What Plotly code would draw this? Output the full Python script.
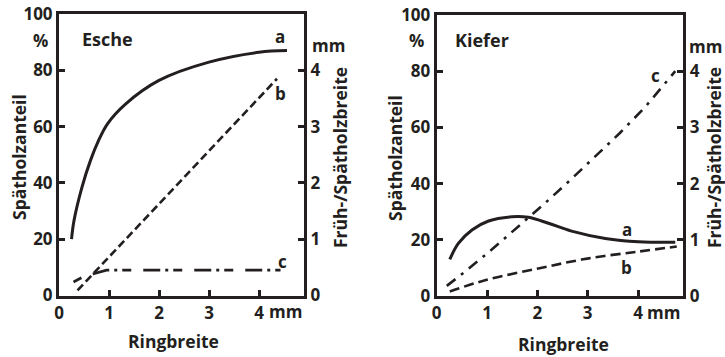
import plotly.graph_objects as go

# ---------------- data ----------------
# Esche (ash)
esche_a_x = [0.25, 0.30, 0.46, 0.63, 0.79, 0.97, 1.33, 2.0, 3.0, 4.0, 4.56]
esche_a_y = [20.0, 26.6, 38.5, 48.0, 55.0, 61.0, 68.0, 76.4, 82.9, 86.4, 87.0]   # %
esche_b_x = [0.37, 4.36]
esche_b_y = [0.09, 3.85]                                                          # mm
esche_c_x = [0.29, 0.50, 0.95, 4.43]
esche_c_y = [0.24, 0.34, 0.45, 0.45]                                              # mm

# Kiefer (pine)
kiefer_a_x = [0.26, 0.43, 0.70, 1.03, 1.49, 1.82, 2.22, 2.68, 3.35, 4.01, 4.74]
kiefer_a_y = [13.0, 18.7, 23.5, 26.7, 28.2, 28.0, 25.9, 23.1, 20.5, 19.3, 19.1]  # %
kiefer_b_x = [0.26, 0.96, 2.02, 3.02, 4.01, 4.77]
kiefer_b_y = [0.08, 0.28, 0.49, 0.67, 0.79, 0.88]                                 # mm
kiefer_c_x = [0.20, 0.56, 1.10, 1.64, 2.15, 2.65, 3.64, 4.14, 4.74]
kiefer_c_y = [0.18, 0.43, 0.83, 1.25, 1.65, 2.06, 2.90, 3.36, 4.00]               # mm

x_tickvals = [0, 1, 2, 3, 4]
x_ticktext = ["0", "1", "2", "3", "4"]
pct_ticks = [0, 20, 40, 60, 80, 100]
mm_ticks = [0, 1, 2, 3, 4]

# ---------------- style ----------------
INK = "#231f20"
FONT = "Open Sans"
W, H = 725, 357

fig = go.Figure()

def add_panel(xref, yl, yr, ax, ay, bx, by, cx, cy, b_dash, c_dash):
    fig.add_trace(go.Scatter(x=ax, y=ay, mode="lines", line=dict(color=INK, width=3, shape="spline"),
                             xaxis=xref, yaxis=yl, showlegend=False, hoverinfo="skip"))
    fig.add_trace(go.Scatter(x=bx, y=by, mode="lines", line=dict(color=INK, width=2.6, dash=b_dash, shape="spline"),
                             xaxis=xref, yaxis=yr, showlegend=False, hoverinfo="skip"))
    fig.add_trace(go.Scatter(x=cx, y=cy, mode="lines", line=dict(color=INK, width=2.6, dash=c_dash),
                             xaxis=xref, yaxis=yr, showlegend=False, hoverinfo="skip"))

add_panel("x", "y", "y2", esche_a_x, esche_a_y, esche_b_x, esche_b_y, esche_c_x, esche_c_y,
          "8px,4px", "9px,12px,17px,5px,3px,5px")
add_panel("x2", "y3", "y4", kiefer_a_x, kiefer_a_y, kiefer_b_x, kiefer_b_y, kiefer_c_x, kiefer_c_y,
          "10px,5px", "11px,7px,3px,7px")

tickfont = dict(family=FONT, size=17, color=INK, weight="bold")
common_x = dict(range=[0, 4.9], tickvals=x_tickvals, ticktext=x_ticktext, ticks="inside", ticklen=6,
                tickwidth=2.5, tickcolor=INK, showline=True, linecolor=INK, linewidth=3, mirror=True,
                showgrid=False, zeroline=False, tickfont=tickfont, fixedrange=True, automargin=False)
common_yl = dict(range=[0, 100], tickvals=pct_ticks, ticks="inside", ticklen=6, tickwidth=2.5,
                 tickcolor=INK, showline=True, linecolor=INK, linewidth=3, showgrid=False,
                 zeroline=False, tickfont=tickfont, side="left", automargin=False)
common_yr = dict(range=[0, 5], tickvals=mm_ticks, ticks="inside", ticklen=6, tickwidth=2.5,
                 tickcolor=INK, showline=True, linecolor=INK, linewidth=3, showgrid=False,
                 zeroline=False, tickfont=tickfont, side="right", automargin=False)

ydom1 = [1 - 295.5 / H, 1 - 14 / H]
ydom2 = [1 - 296 / H, 1 - 15 / H]
fig.update_layout(
    template="none",
    width=W, height=H, margin=dict(l=0, r=0, t=0, b=0, autoexpand=False),
    paper_bgcolor="white", plot_bgcolor="white",
    font=dict(family=FONT, color=INK, weight="bold"),
    xaxis=dict(domain=[59 / W, 304 / W], anchor="y", **common_x),
    yaxis=dict(domain=ydom1, anchor="x", **common_yl),
    yaxis2=dict(overlaying="y", anchor="x", **common_yr),
    xaxis2=dict(domain=[436.7 / W, 683.3 / W], anchor="y3", **common_x),
    yaxis3=dict(domain=ydom2, anchor="x2", **common_yl),
    yaxis4=dict(overlaying="y3", anchor="x2", **common_yr),
)

def ann(text, px, py, size=17, angle=0, xanchor="center"):
    fig.add_annotation(text=text, x=px / W, y=1 - py / H, xref="paper", yref="paper",
                       showarrow=False, textangle=angle, xanchor=xanchor, yanchor="middle",
                       font=dict(family=FONT, size=size, color=INK, weight="bold"))

# Esche panel texts
ann("Esche", 107, 38.5, size=18)
ann("%", 40, 40)
ann("mm", 328, 45)
ann("mm", 285, 311)
ann("a", 280, 37)
ann("b", 280, 94)
ann("c", 282.5, 261)
ann("Spätholzanteil", 19, 157, size=17.5, angle=-90)
ann("Früh-/Spätholzbreite", 340, 158, size=17.5, angle=-90)
ann("Ringbreite", 173, 341, size=17.5)

# Kiefer panel texts
ann("Kiefer", 482, 39.5, size=18)
ann("%", 416.7, 40)
ann("mm", 705, 46.5)
ann("mm", 663, 312)
ann("c", 655, 75)
ann("a", 626.7, 229)
ann("b", 626.7, 267)
ann("Spätholzanteil", 395, 158, size=17.5, angle=-90)
ann("Früh-/Spätholzbreite", 714, 158, size=17.5, angle=-90)
ann("Ringbreite", 563, 344, size=17.5)

fig.write_html("out.html")
